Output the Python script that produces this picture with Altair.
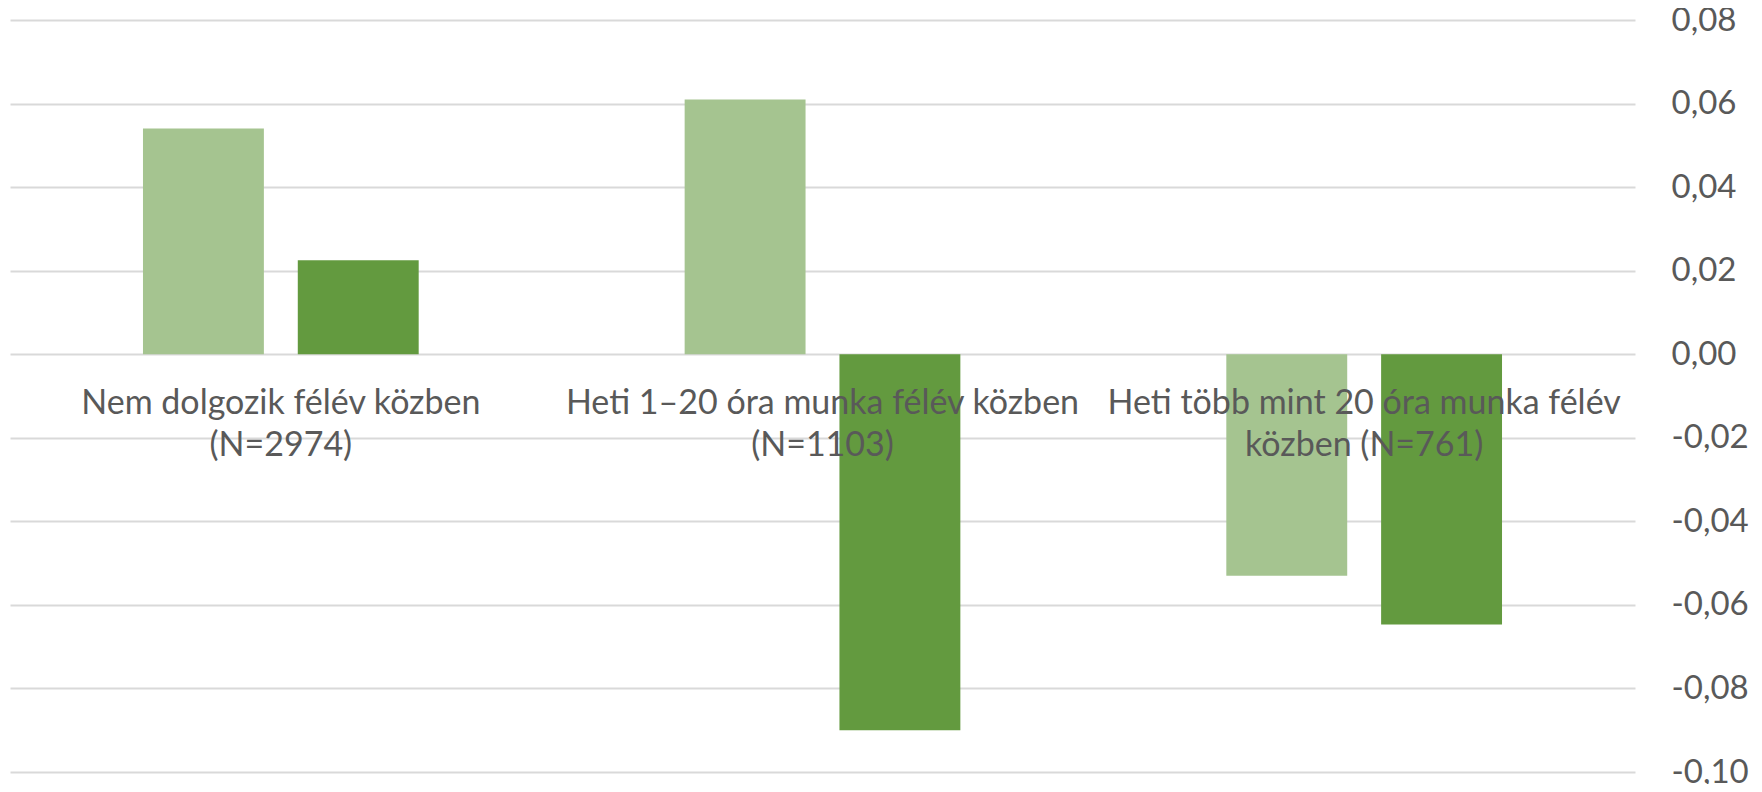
import altair as alt
import pandas as pd

categories = [
    "Nem dolgozik félév közben\n(N=2974)",
    "Heti 1–20 óra munka félév közben\n(N=1103)",
    "Heti több mint 20 óra munka félév\nközben (N=761)",
]
series_names = ["Sorozat 1", "Sorozat 2"]
series1 = [0.054, 0.061, -0.053]
series2 = [0.0225, -0.090, -0.0647]
y_ticks = [-0.10, -0.08, -0.06, -0.04, -0.02, 0.00, 0.02, 0.04, 0.06, 0.08]
colors = ["#A5C490", "#639A3F"]

rows = []
for i, c in enumerate(categories):
    rows.append({"cat": c, "series": series_names[0], "value": series1[i]})
    rows.append({"cat": c, "series": series_names[1], "value": series2[i]})
df = pd.DataFrame(rows)
labels_df = pd.DataFrame({"cat": categories, "zero": [0.0] * len(categories)})

FONT = "Lato"

x_enc = alt.X(
    "cat:N",
    sort=categories,
    axis=None,
    scale=alt.Scale(paddingInner=0.491, paddingOuter=0.2455),
)

bars = alt.Chart(df).mark_bar().encode(
    x=x_enc,
    xOffset=alt.XOffset(
        "series:N",
        sort=series_names,
        scale=alt.Scale(paddingInner=0.219, paddingOuter=0),
    ),
    y=alt.Y(
        "value:Q",
        scale=alt.Scale(domain=[-0.10, 0.08], nice=False, zero=False),
        axis=alt.Axis(
            orient="right",
            values=y_ticks,
            title=None,
            domain=False,
            ticks=False,
            grid=True,
            gridColor="#D9D9D9",
            gridWidth=2,
            labelFont=FONT,
            labelFontSize=33,
            labelColor="#595959",
            labelAlign="left",
            labelBaseline="middle",
            labelPadding=36,
            labelOverlap=False,
            labelBound=False,
            labelExpr="replace(replace(format(datum.value, '.2f'), '.', ','), '\u2212', '-')",
        ),
    ),
    color=alt.Color(
        "series:N",
        sort=series_names,
        scale=alt.Scale(domain=series_names, range=colors),
        legend=None,
    ),
)

texts = alt.Chart(labels_df).mark_text(
    font=FONT,
    fontSize=34,
    color="#595959",
    align="center",
    baseline="alphabetic",
    dy=60,
    lineBreak="\n",
    lineHeight=42,
).encode(
    x=x_enc,
    y=alt.Y("zero:Q"),
    text="cat:N",
)

chart = alt.layer(bars, texts).properties(
    width=1625,
    height=752,
    autosize=alt.AutoSizeParams(type="none"),
    padding={"left": 2, "top": 12, "right": 118, "bottom": 12},
).configure(
    background="white",
    view=alt.ViewConfig(stroke=None),
)

chart.save("out.html", embed_options={"renderer": "svg", "actions": False})
